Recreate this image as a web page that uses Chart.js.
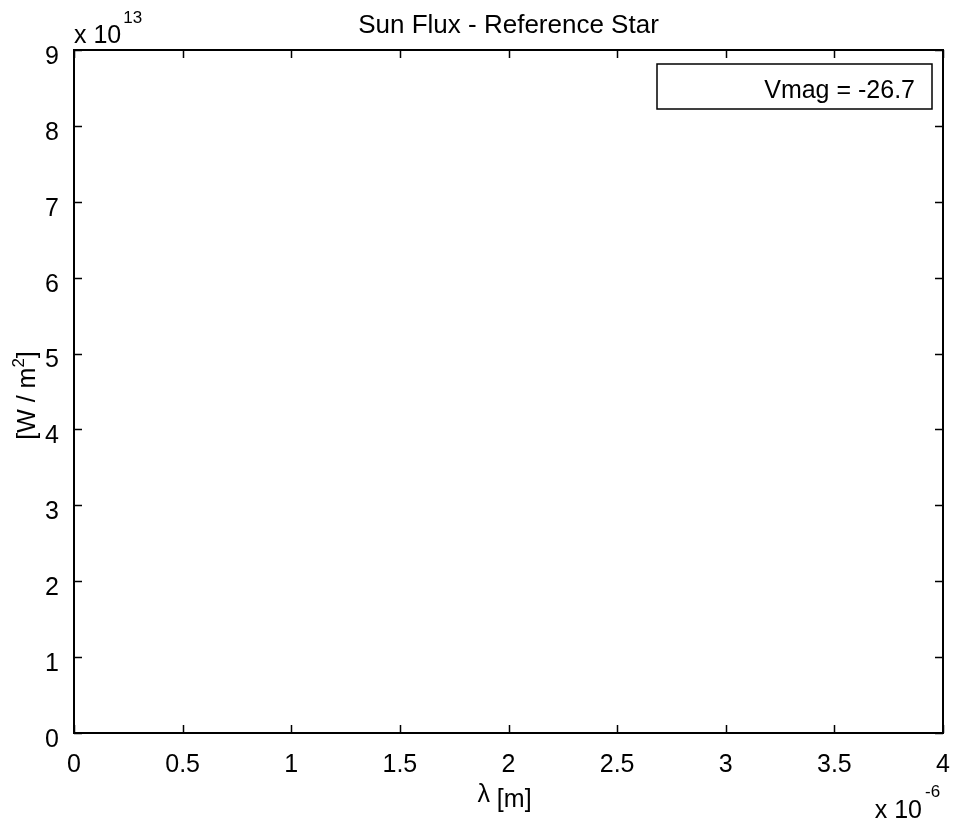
<!DOCTYPE html>
<html lang="en">
<head>
    <meta charset="UTF-8">
    <title>Sun Flux - Reference Star</title>
    <style>
        body {
            margin: 0;
            background-color: #ffffff;
        }
        #wrap {
            width: 954px;
            height: 823px;
        }
    </style>
</head>
<body>
    <div id="wrap"><canvas id="flux-chart" width="954" height="823"></canvas></div>
    <script src="https://cdn.jsdelivr.net/npm/chart.js@4.4.1/dist/chart.umd.min.js"></script>
    <script>
        // wavelength in units of 1e-6 m, flux in units of 1e13 W/m^2
        // (the reference plot shows no visible curve, only the empty axes)
        const wavelength = [];
        const flux = [];
        const xTicks = [0, 0.5, 1, 1.5, 2, 2.5, 3, 3.5, 4];
        const yTicks = [0, 1, 2, 3, 4, 5, 6, 7, 8, 9];
        const legendLabel = 'Vmag = -26.7';
        const titleText = 'Sun Flux - Reference Star';

        const FONT = '"Liberation Sans", Arial, Helvetica, sans-serif';

        // matlab style box: frame, inward ticks on all four sides, texts
        const matlabBox = {
            id: 'matlabBox',
            afterDraw(chart) {
                const ctx = chart.ctx;
                const a = chart.chartArea;
                const xs = chart.scales.x;
                const ys = chart.scales.y;
                const tl = 8;
                ctx.save();
                ctx.strokeStyle = '#000';
                ctx.lineWidth = 2;
                ctx.strokeRect(a.left, a.top, a.right - a.left, a.bottom - a.top);

                ctx.lineWidth = 1.5;
                ctx.beginPath();
                xTicks.forEach(v => {
                    const px = Math.round(xs.getPixelForValue(v)) + 0.5;
                    ctx.moveTo(px, a.bottom); ctx.lineTo(px, a.bottom - tl);
                    ctx.moveTo(px, a.top); ctx.lineTo(px, a.top + tl);
                });
                yTicks.forEach(v => {
                    const py = Math.round(ys.getPixelForValue(v)) + 0.5;
                    ctx.moveTo(a.left, py); ctx.lineTo(a.left + tl, py);
                    ctx.moveTo(a.right, py); ctx.lineTo(a.right - tl, py);
                });
                ctx.stroke();

                ctx.fillStyle = '#000';
                ctx.textBaseline = 'alphabetic';

                // title
                ctx.font = '26px ' + FONT;
                ctx.textAlign = 'center';
                ctx.fillText(titleText, (a.left + a.right) / 2, a.top - 17);

                // y exponent
                ctx.textAlign = 'left';
                ctx.font = '25px ' + FONT;
                ctx.fillText('x 10', a.left, a.top - 7);
                const w1 = ctx.measureText('x 10').width;
                ctx.font = '17px ' + FONT;
                ctx.fillText('13', a.left + w1 + 2, a.top - 27);

                // x exponent
                ctx.font = '25px ' + FONT;
                ctx.textAlign = 'right';
                ctx.fillText('x 10', a.right - 21, a.bottom + 85);
                ctx.font = '17px ' + FONT;
                ctx.textAlign = 'left';
                ctx.fillText('-6', a.right - 18, a.bottom + 64);

                // x label
                ctx.font = '25px ' + FONT;
                const lam = 'λ';
                const rest = ' [m]';
                const wl = ctx.measureText(lam).width;
                const wr = ctx.measureText(rest).width;
                const cx = (a.left + a.right) / 2 - 4;
                const sx = cx - (wl + wr) / 2;
                ctx.fillText(lam, sx, a.bottom + 69);
                ctx.fillText(rest, sx + wl, a.bottom + 74);

                // y label, rotated
                ctx.save();
                ctx.translate(a.left - 39, (a.top + a.bottom) / 2 + 4);
                ctx.rotate(-Math.PI / 2);
                const p1 = '[W / m';
                const p3 = ']';
                ctx.font = '25px ' + FONT;
                const w_1 = ctx.measureText(p1).width;
                const w_3 = ctx.measureText(p3).width;
                ctx.font = '17px ' + FONT;
                const w_2 = ctx.measureText('2').width;
                const start = -(w_1 + w_2 + w_3) / 2;
                ctx.font = '25px ' + FONT;
                ctx.fillText(p1, start, 0);
                ctx.fillText(p3, start + w_1 + w_2, 0);
                ctx.font = '17px ' + FONT;
                ctx.fillText('2', start + w_1, -11);
                ctx.restore();

                // legend box
                const lx = a.left + 583, ly = a.top + 14, lw = 275, lh = 45;
                ctx.fillStyle = '#fff';
                ctx.fillRect(lx, ly, lw, lh);
                ctx.lineWidth = 1.5;
                ctx.strokeRect(lx, ly, lw, lh);
                ctx.fillStyle = '#000';
                ctx.font = '25px ' + FONT;
                ctx.textAlign = 'right';
                ctx.fillText(legendLabel, lx + lw - 17, ly + 34);

                ctx.restore();
            }
        };

        const points = wavelength.map((x, i) => ({ x: x, y: flux[i] }));

        Chart.defaults.color = '#000';
        Chart.defaults.font.family = FONT;

        new Chart(document.getElementById('flux-chart'), {
            type: 'scatter',
            data: {
                datasets: [{
                    label: legendLabel,
                    data: points,
                    showLine: true,
                    borderColor: '#0000ff',
                    borderWidth: 1,
                    pointRadius: 0
                }]
            },
            options: {
                responsive: false,
                animation: false,
                devicePixelRatio: 1,
                layout: {
                    padding: { top: 50, right: 11, left: 0, bottom: 0 }
                },
                scales: {
                    x: {
                        type: 'linear',
                        min: 0,
                        max: 4,
                        grid: { display: false },
                        border: { display: false },
                        afterBuildTicks: s => { s.ticks = xTicks.map(v => ({ value: v })); },
                        afterFit: s => { s.height = 90; s.paddingLeft = 0; s.paddingRight = 0; },
                        ticks: {
                            padding: 9,
                            maxRotation: 0,
                            autoSkip: false,
                            font: { size: 25 },
                            callback: v => String(v)
                        }
                    },
                    y: {
                        type: 'linear',
                        min: 0,
                        max: 9,
                        grid: { display: false },
                        border: { display: false },
                        afterBuildTicks: s => { s.ticks = yTicks.map(v => ({ value: v })); },
                        afterFit: s => { s.width = 74; s.paddingTop = 0; s.paddingBottom = 0; },
                        ticks: {
                            padding: 7,
                            labelOffset: 7,
                            autoSkip: false,
                            font: { size: 25 },
                            callback: v => String(v)
                        }
                    }
                },
                plugins: {
                    legend: { display: false },
                    title: { display: false },
                    tooltip: { enabled: false }
                }
            },
            plugins: [matlabBox]
        });
    </script>
</body>
</html>
